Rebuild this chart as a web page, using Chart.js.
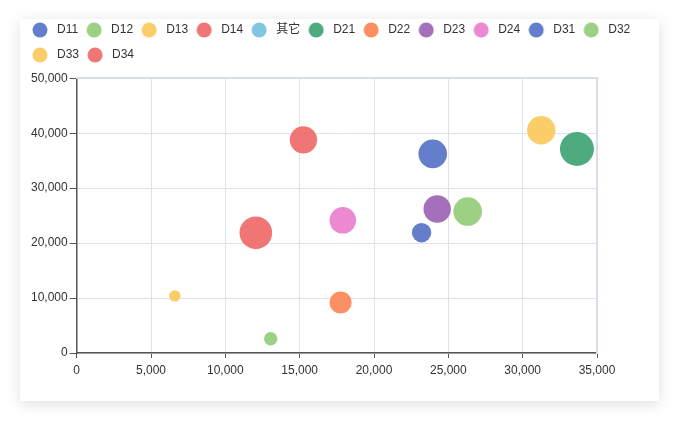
<!DOCTYPE html>
<html>
<head>
<meta charset="utf-8">
<script src="https://cdn.jsdelivr.net/npm/chart.js@4/dist/chart.umd.min.js"></script>
<style>
  html, body { margin: 0; padding: 0; background: #ffffff; }
  body { width: 679px; height: 421px; position: relative; overflow: hidden; }
  #card { position: absolute; left: 20px; top: 19px; width: 639px; height: 382px; background: #fff;
          box-shadow: 0 3px 14px rgba(0,0,0,0.13); }
  #c { position: absolute; left: 0; top: 0; }
</style>
</head>
<body>
<div id="card"></div>
<canvas id="c" width="679" height="421"></canvas>
<script>
// ---- data ----
const seriesNames = ['D11', 'D12', 'D13', 'D14', '其它', 'D21', 'D22', 'D23', 'D24', 'D31', 'D32', 'D33', 'D34'];
const seriesX     = [23200, 13050, 6600, 15250, null, 33650, 17750, 24250, 17900, 23950, 26300, 31250, 12050];
const seriesY     = [21900, 2600, 10400, 38800, null, 37150, 9200, 26200, 24150, 36250, 25750, 40550, 21900];
const bubbleSize  = [9.7, 6.7, 5.7, 13.7, null, 17, 11, 13.7, 13.3, 14.3, 14.3, 14.2, 16.3];
const xTicks = [0, 5000, 10000, 15000, 20000, 25000, 30000, 35000];
const yTicks = [0, 10000, 20000, 30000, 40000, 50000];

const palette = ['#5470c6', '#91cc75', '#fac858', '#ee6666', '#73c0de', '#3ba272', '#fc8452', '#9a60b4', '#ea7ccc'];
function hexA(hex, a) {
  const n = parseInt(hex.slice(1), 16);
  return 'rgba(' + (n >> 16) + ',' + ((n >> 8) & 255) + ',' + (n & 255) + ',' + a + ')';
}
function colorFor(i) { return palette[i % palette.length]; }

const datasets = seriesNames.map((name, i) => ({
  label: name,
  data: seriesX[i] === null ? [] : [{ x: seriesX[i], y: seriesY[i], r: bubbleSize[i] }],
  backgroundColor: hexA(colorFor(i), 0.9),
  borderWidth: 0,
  hoverBorderWidth: 0
}));

function legendDot(color) {
  const cv = document.createElement('canvas');
  cv.width = 24; cv.height = 16;
  const g = cv.getContext('2d');
  g.fillStyle = color;
  g.beginPath();
  g.arc(8, 8, 7.5, 0, Math.PI * 2);
  g.fill();
  return cv;
}
const dots = seriesNames.map((n, i) => legendDot(hexA(colorFor(i), 0.9)));

const FONT = "'Liberation Sans', 'Noto Sans CJK SC', Arial, sans-serif";
const fmt = v => Number(v).toLocaleString('en-US');

new Chart(document.getElementById('c'), {
  type: 'bubble',
  data: { datasets },
  options: {
    responsive: false,
    devicePixelRatio: 1,
    animation: false,
    events: [],
    layout: { padding: { left: 24, right: 26, top: 11, bottom: 38 } },
    plugins: {
      tooltip: { enabled: false },
      legend: {
        position: 'top',
        align: 'start',
        labels: {
          usePointStyle: true,
          pointStyleWidth: 14,
          padding: 13,
          color: '#333',
          font: { family: FONT, size: 12 },
          generateLabels(chart) {
            const items = Chart.defaults.plugins.legend.labels.generateLabels(chart);
            items.forEach(it => { it.pointStyle = dots[it.datasetIndex]; });
            return items;
          }
        }
      }
    },
    scales: {
      x: {
        type: 'linear', position: 'bottom', min: 0, max: 35000,
        afterBuildTicks: s => { s.ticks = xTicks.map(v => ({ value: v })); },
        afterFit: s => { s.height = 30; },
        grid: { color: '#dde3ed', lineWidth: 1, tickColor: '#555', tickLength: 5, tickWidth: 1 },
        border: { color: '#555', width: 1.5 },
        ticks: { padding: 5, color: '#333', font: { family: FONT, size: 12 }, callback: v => fmt(v), maxRotation: 0 }
      },
      y: {
        type: 'linear', position: 'left', min: 0, max: 50000,
        afterBuildTicks: s => { s.ticks = yTicks.map(v => ({ value: v })); },
        afterFit: s => { s.width = 52.7; },
        grid: { color: '#dde3ed', lineWidth: 1, tickColor: '#555', tickLength: 7, tickWidth: 1 },
        border: { color: '#555', width: 1.5 },
        ticks: { padding: 2, color: '#333', font: { family: FONT, size: 12 }, callback: v => fmt(v) }
      },
      xTop: {
        type: 'linear', position: 'top', axis: 'x',
        afterFit: s => { s.height = 7.3; },
        grid: { display: false, drawTicks: false },
        ticks: { display: false },
        border: { display: true, color: '#d8dee9', width: 2 }
      },
      yRight: {
        type: 'linear', position: 'right', axis: 'y',
        afterFit: s => { s.width = 56; },
        grid: { display: false, drawTicks: false },
        ticks: { display: false },
        border: { display: true, color: '#d8dee9', width: 2 }
      }
    }
  }
});
</script>
</body>
</html>
